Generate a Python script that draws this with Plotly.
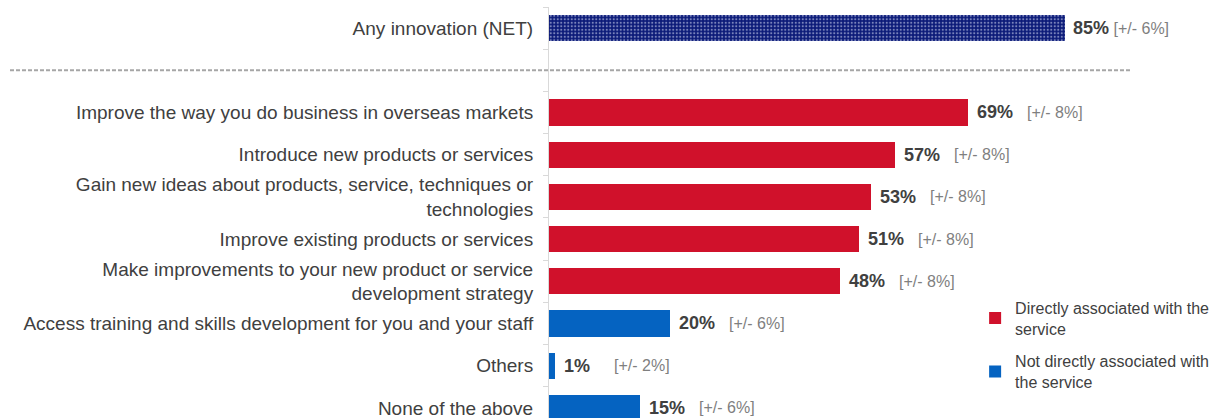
import plotly.graph_objects as go

# Survey results: share of respondents (%) and margin of error (+/- %)
net_label = "Any innovation (NET)"
net_value = 85
net_moe = 6

direct_labels = [
    "Improve the way you do business in overseas markets",
    "Introduce new products or services",
    "Gain new ideas about products, service, techniques or<br>technologies",
    "Improve existing products or services",
    "Make improvements to your new product or service<br>development strategy",
]
direct_values = [69, 57, 53, 51, 48]
direct_moe = [8, 8, 8, 8, 8]

indirect_labels = [
    "Access training and skills development for you and your staff",
    "Others",
    "None of the above",
]
indirect_values = [20, 1, 15]
indirect_moe = [6, 2, 6]

legend_direct = "Directly associated with the<br>service"
legend_indirect = "Not directly associated with<br>the service"

NAVY = "#0b1a78"
RED = "#d0112b"
BLUE = "#0563c1"
TEXT = "#404040"
GREY = "#7f7f7f"
FONT = "Liberation Sans, Arial"

# slot 0: NET row, slot 1: separator, slots 2..: individual answers
net_pos = 0
sep_pos = 1
direct_pos = list(range(2, 2 + len(direct_labels)))
indirect_pos = list(range(2 + len(direct_labels), 2 + len(direct_labels) + len(indirect_labels)))

BAR_W = 0.62
MARGIN_L = 549
PLOT_W = 1219 - MARGIN_L

fig = go.Figure()
fig.add_trace(go.Bar(
    x=[net_value], y=[net_pos], orientation="h", width=BAR_W,
    marker=dict(color=NAVY, line_width=0,
                pattern=dict(shape=".", fgcolor="#e6ebff", bgcolor=NAVY,
                             size=3.5, solidity=0.3)),
    showlegend=False, hoverinfo="skip", legendgroup="net",
))
fig.add_trace(go.Bar(
    x=direct_values, y=direct_pos, orientation="h", width=BAR_W,
    marker=dict(color=RED, line_width=0), name=legend_direct,
    legendgroup="direct",
))
fig.add_trace(go.Bar(
    x=indirect_values, y=indirect_pos, orientation="h", width=BAR_W,
    marker=dict(color=BLUE, line_width=0), name=legend_indirect,
    legendgroup="indirect",
))

annotations = [dict(
    x=net_value, y=net_pos, xref="x", yref="y", xanchor="left", xshift=6,
    text=f"<b>{net_value}%</b><span style='font-size:16px;color:{GREY}'> [+/- {net_moe}%]</span>",
    showarrow=False, font=dict(size=18, color=TEXT, family=FONT),
)]
for vals, moes, poss in [(direct_values, direct_moe, direct_pos),
                         (indirect_values, indirect_moe, indirect_pos)]:
    for v, m, p in zip(vals, moes, poss):
        annotations.append(dict(
            x=v, y=p, xref="x", yref="y", xanchor="left", xshift=7,
            text=f"<b>{v}%</b>", showarrow=False,
            font=dict(size=18, color=TEXT, family=FONT),
        ))
        annotations.append(dict(
            x=v, y=p, xref="x", yref="y", xanchor="left", xshift=57,
            text=f"[+/- {m}%]", showarrow=False,
            font=dict(size=16, color=GREY, family=FONT),
        ))

fig.update_layout(
    width=1219, height=418,
    margin=dict(l=MARGIN_L, r=0, t=7, b=0),
    paper_bgcolor="white", plot_bgcolor="white",
    font=dict(family=FONT, color=TEXT),
    bargap=0,
    xaxis=dict(range=[0, 110.4], visible=False, fixedrange=True),
    yaxis=dict(
        range=[9.24, -0.5], autorange=False,
        tickvals=[net_pos] + direct_pos + indirect_pos,
        ticktext=[net_label] + direct_labels + indirect_labels,
        tickfont=dict(size=19, color=TEXT),
        ticklabeloverflow="allow",
        ticks="", showgrid=False, zeroline=False,
        showline=True, linecolor="#d9d9d9", linewidth=1,
        ticklabelstandoff=11,
        minor=dict(ticks="outside", tick0=0.5, dtick=1, ticklen=5,
                   tickcolor="#d9d9d9", showgrid=False),
    ),
    # dashed separator between the NET row and the individual answers
    shapes=[dict(
        type="line", xref="paper", yref="y",
        x0=(10 - MARGIN_L) / PLOT_W, x1=(1132 - MARGIN_L) / PLOT_W,
        y0=sep_pos, y1=sep_pos,
        line=dict(color="#a6a6a6", width=2, dash="4px,2px"),
    )],
    annotations=annotations,
    legend=dict(
        x=0.636, y=0.31, xanchor="left", yanchor="top",
        font=dict(size=16, color=TEXT), bgcolor="rgba(0,0,0,0)",
        tracegroupgap=9, itemwidth=30, traceorder="grouped",
    ),
)

fig.write_html("out.html")
